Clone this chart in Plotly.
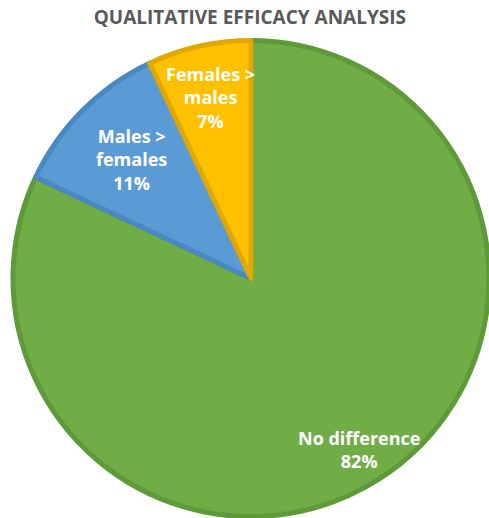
import math
import plotly.graph_objects as go

categories = ["No difference", "Males ><br>females", "Females ><br>males"]
values = [82, 11, 7]
colors = ["#70AD47", "#5B9BD5", "#FFC000"]
edge_colors = ["#5F9A3A", "#4A88C2", "#E0A800"]
label_radius = [0.85, 0.71, 0.78]  # fraction of pie radius where each label sits
title_text = "QUALITATIVE EFFICACY ANALYSIS"

W, H = 489, 518
ML, MR, MT, MB = 13, 0, 40, 1

fig = go.Figure(go.Pie(
    labels=categories,
    values=values,
    sort=False,
    direction="clockwise",
    rotation=0,
    marker=dict(colors=colors, line=dict(color=edge_colors, width=5)),
    textinfo="none",
    hoverinfo="label+percent",
    showlegend=False,
))

# label annotations placed on each slice's mid-angle
pw, ph = W - ML - MR, H - MT - MB
r = min(pw, ph) / 2
total = sum(values)
cum = 0
annotations = []
for cat, v, f in zip(categories, values, label_radius):
    theta = 2 * math.pi * (cum + v / 2) / total
    cum += v
    dx = f * r * math.sin(theta)
    dy = f * r * math.cos(theta)
    annotations.append(dict(
        x=0.5 + dx / pw, y=0.5 + dy / ph, xref="paper", yref="paper",
        text="<b>%s<br>%d%%</b>" % (cat, round(100 * v / total)),
        showarrow=False, xanchor="center", yanchor="middle", align="center",
        font=dict(family="Open Sans", size=18, color="white"),
    ))

fig.update_layout(
    width=W, height=H,
    margin=dict(l=ML, r=MR, t=MT, b=MB),
    paper_bgcolor="white",
    annotations=annotations,
    title=dict(text="<b>" + title_text + "</b>", x=0.511, xanchor="center", y=1 - 17 / H, yanchor="middle",
               font=dict(family="Open Sans", size=19, color="#595959")),
)

fig.write_html("out.html")
